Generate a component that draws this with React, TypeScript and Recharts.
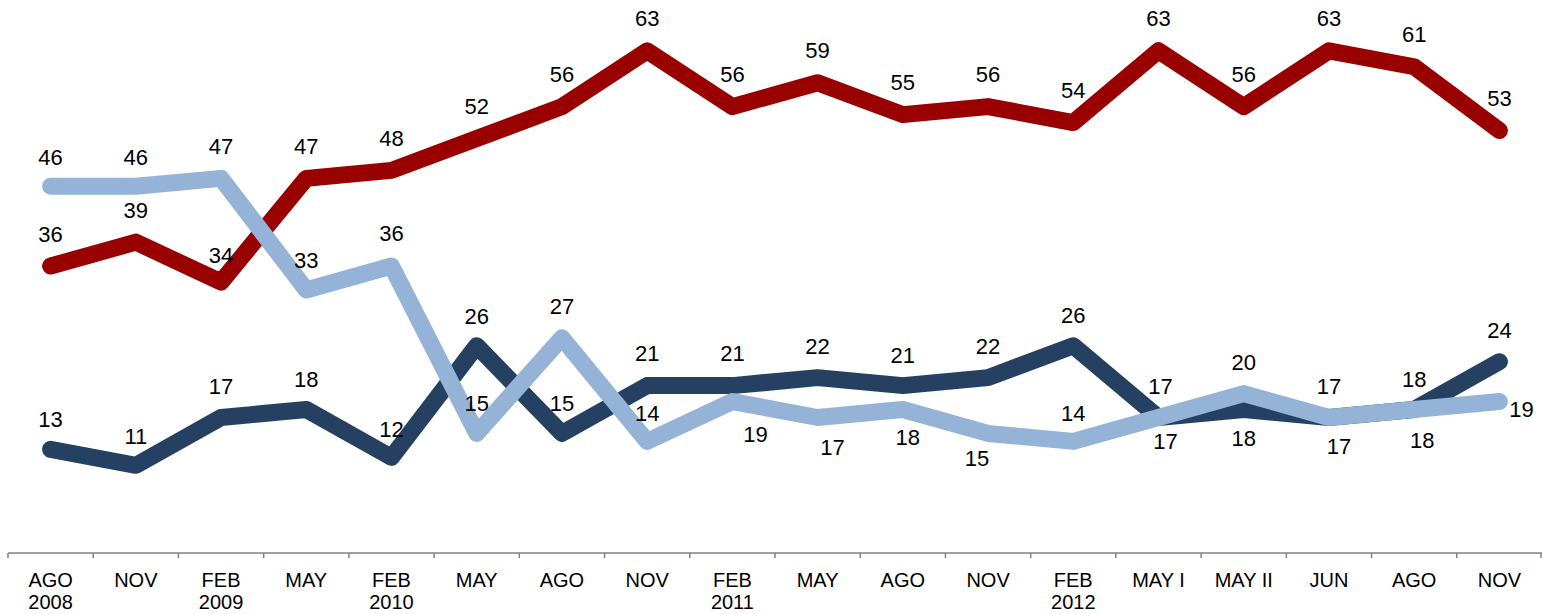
import React from 'react';
import { LineChart, Line, XAxis, YAxis, LabelList } from 'recharts';

const months = ['AGO', 'NOV', 'FEB', 'MAY', 'FEB', 'MAY', 'AGO', 'NOV', 'FEB', 'MAY', 'AGO', 'NOV', 'FEB', 'MAY I', 'MAY II', 'JUN', 'AGO', 'NOV'];
const years = ['2008', '', '2009', '', '2010', '', '', '', '2011', '', '', '', '2012', '', '', '', '', ''];

const redValues = [36, 39, 34, 47, 48, 52, 56, 63, 56, 59, 55, 56, 54, 63, 56, 63, 61, 53];
const navyValues = [13, 11, 17, 18, 12, 26, 15, 21, 21, 22, 21, 22, 26, 17, 18, 17, 18, 24];
const lightValues = [46, 46, 47, 33, 36, 15, 27, 14, 19, 17, 18, 15, 14, 17, 20, 17, 18, 19];

// label offsets [dx, dy] from the point, per series
const redLabelPos = redValues.map((_, i) => (i === 2 ? [0, -26] : [0, -32]));
const navyLabelPos = [
  [0, -30], [0, -29], [0, -31], [0, -30], [0, -28], [0, -29], [0, -30], [0, -32], [0, -32],
  [0, -31], [0, -30], [0, -31], [0, -30], [2, -31], [0, 29], [10, 29], [0, -30], [0, -31],
];
const lightLabelPos = [
  [0, -29], [0, -29], [0, -32], [0, -29], [0, -33], [0, -30], [0, -31], [0, -28], [23, 33],
  [15, 30], [5, 28], [-11, 25], [0, -28], [7, 24], [0, -31], [0, -31], [8, 31], [22, 8],
];

const data = months.map((m, i) => ({
  idx: i,
  red: redValues[i],
  navy: navyValues[i],
  light: lightValues[i],
}));

const W = 1542;
const H = 614;
const margin = { top: 3, right: 0, left: 8, bottom: 0 };
const step = (W - margin.left - margin.right) / months.length;
const FONT = 'Liberation Sans, Arial, sans-serif';

const CategoryTick = (props: any) => {
  const { x, y, payload, index } = props;
  const i = payload.value as number;
  return (
    <g>
      <line x1={x - step / 2} x2={x - step / 2} y1={y} y2={y + 5} stroke="#808080" strokeWidth={1.5} />
      {index === months.length - 1 && (
        <line x1={x + step / 2 - 1} x2={x + step / 2 - 1} y1={y} y2={y + 5} stroke="#808080" strokeWidth={1.5} />
      )}
      <text x={x} y={y + 34} textAnchor="middle" fontFamily={FONT} fontSize={20} fill="#000">
        {months[i]}
      </text>
      {years[i] && (
        <text x={x} y={y + 56} textAnchor="middle" fontFamily={FONT} fontSize={20} fill="#000">
          {years[i]}
        </text>
      )}
    </g>
  );
};

const makeLabel = (pos: number[][]) => (props: any) => {
  const { x, y, value, index } = props;
  const [dx, dy] = pos[index] || [0, -30];
  return (
    <text
      x={x + dx}
      y={y + dy}
      textAnchor="middle"
      dominantBaseline="central"
      fontFamily={FONT}
      fontSize={22}
      fill="#000"
    >
      {value}
    </text>
  );
};

export default function App() {
  return (
    <div style={{ position: 'absolute', left: 0, top: 0, width: W, height: H, background: '#fff' }}>
      <LineChart width={W} height={H} data={data} margin={margin}>
        <XAxis
          dataKey="idx"
          scale="band"
          height={61}
          interval={0}
          tickLine={false}
          tickSize={0}
          tickMargin={0}
          axisLine={{ stroke: '#808080', strokeWidth: 1.5 }}
          tick={<CategoryTick />}
        />
        <YAxis hide domain={[0, 69]} />
        <Line
          dataKey="red"
          stroke="#990000"
          strokeWidth={17}
          strokeLinecap="round"
          strokeLinejoin="round"
          dot={false}
          activeDot={false}
          isAnimationActive={false}
        >
          <LabelList dataKey="red" content={makeLabel(redLabelPos)} />
        </Line>
        <Line
          dataKey="navy"
          stroke="#254061"
          strokeWidth={17}
          strokeLinecap="round"
          strokeLinejoin="round"
          dot={false}
          activeDot={false}
          isAnimationActive={false}
        >
          <LabelList dataKey="navy" content={makeLabel(navyLabelPos)} />
        </Line>
        <Line
          dataKey="light"
          stroke="#95B3D7"
          strokeWidth={17}
          strokeLinecap="round"
          strokeLinejoin="round"
          dot={false}
          activeDot={false}
          isAnimationActive={false}
        >
          <LabelList dataKey="light" content={makeLabel(lightLabelPos)} />
        </Line>
      </LineChart>
    </div>
  );
}
